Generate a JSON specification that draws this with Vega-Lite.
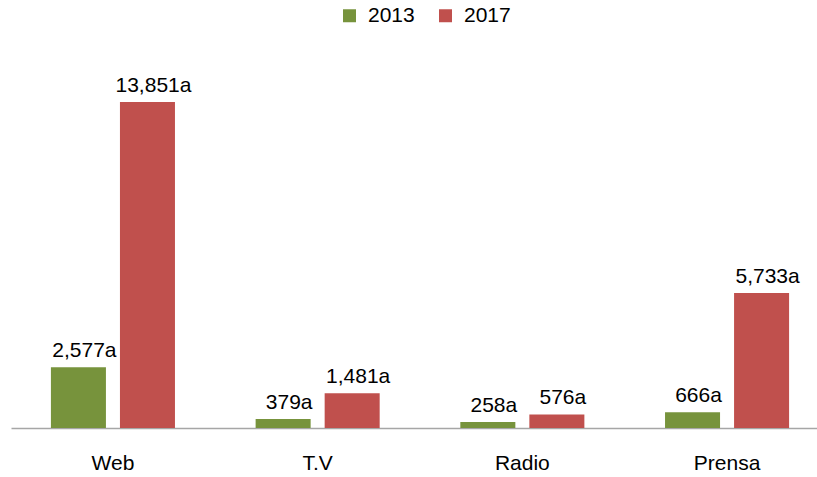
{
  "$schema": "https://vega.github.io/schema/vega-lite/v6.json",
  "width": 818,
  "height": 353,
  "autosize": {"type": "none"},
  "padding": {"left": 11, "top": 75, "right": 0, "bottom": 49},
  "background": "white",
  "config": {"view": {"stroke": null}, "font": "Liberation Sans"},
  "data": {
    "values": [
      {"medio": "Web", "year": "2013", "value": 2577, "label": "2,577a"},
      {"medio": "Web", "year": "2017", "value": 13851, "label": "13,851a"},
      {"medio": "T.V", "year": "2013", "value": 379, "label": "379a"},
      {"medio": "T.V", "year": "2017", "value": 1481, "label": "1,481a"},
      {"medio": "Radio", "year": "2013", "value": 258, "label": "258a"},
      {"medio": "Radio", "year": "2017", "value": 576, "label": "576a"},
      {"medio": "Prensa", "year": "2013", "value": 666, "label": "666a"},
      {"medio": "Prensa", "year": "2017", "value": 5733, "label": "5,733a"}
    ]
  },
  "encoding": {
    "x": {
      "field": "medio", "type": "nominal", "sort": ["Web", "T.V", "Radio", "Prensa"],
      "scale": {"paddingInner": 0.394, "paddingOuter": 0.195},
      "axis": {"title": null, "ticks": false, "labelAngle": 0, "labelFontSize": 21, "labelColor": "#000000", "labelPadding": 24, "domainColor": "#a6a6a6", "domainWidth": 1.5}
    },
    "xOffset": {"field": "year", "type": "nominal", "scale": {"paddingInner": 0.203, "paddingOuter": 0}},
    "y": {"field": "value", "type": "quantitative", "scale": {"domain": [0, 15000]}, "axis": null}
  },
  "layer": [
    {
      "mark": {"type": "bar"},
      "encoding": {
        "color": {
          "field": "year", "type": "nominal",
          "scale": {"domain": ["2013", "2017"], "range": ["#77933C", "#C0504D"]},
          "legend": {
            "title": null, "orient": "none", "direction": "horizontal",
            "legendX": 328, "legendY": -70,
            "symbolType": "square", "symbolSize": 169, "symbolStrokeWidth": 0,
            "labelFontSize": 21, "labelColor": "#000000", "labelOffset": 8, "columnPadding": 20
          }
        }
      }
    },
    {
      "mark": {"type": "text", "baseline": "bottom", "dy": -6, "dx": 6, "fontSize": 21, "color": "#000000"},
      "encoding": {"text": {"field": "label"}}
    }
  ]
}
